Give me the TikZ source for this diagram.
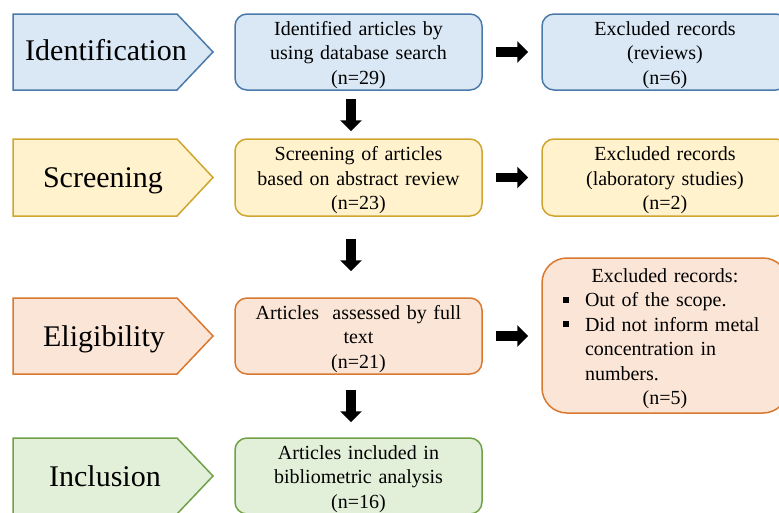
\documentclass[tikz,border=0pt]{standalone}
\usepackage{fontspec}
\setmainfont{Liberation Serif}
\usetikzlibrary{arrows.meta}
\definecolor{bfill}{HTML}{DAE8F5}
\definecolor{bline}{HTML}{4A7AAB}
\definecolor{yfill}{HTML}{FFF2CC}
\definecolor{yline}{HTML}{CFA52F}
\definecolor{ofill}{HTML}{FBE5D6}
\definecolor{oline}{HTML}{D9782F}
\definecolor{gfill}{HTML}{E2F0D9}
\definecolor{gline}{HTML}{70A048}
\newcommand{\fls}{\rule{0pt}{20pt}}
\begin{document}
\begin{tikzpicture}[x=1pt,y=-1pt,
  stage/.style={line width=1.5pt},
  stagetext/.style={anchor=base, inner sep=0pt, font=\fontsize{30}{36}\selectfont},
  roundbox/.style={rectangle, rounded corners=12pt, line width=1.5pt, minimum height=76pt,
    inner sep=0pt, align=center, font=\fontsize{20}{24.5}\selectfont},
  barrow/.style={line width=9.5pt, -{Triangle[length=11pt,width=21pt]}},
]
\useasboundingbox (0,0) rectangle (779,512);
\clip (0,0) rectangle (779,512);

% stage pentagons
\draw[stage, draw=bline, fill=bfill] (13,14) -- (177,14) -- (213,52) -- (177,90) -- (13,90) -- cycle;
\draw[stage, draw=yline, fill=yfill] (13,139) -- (177,139) -- (213,177.5) -- (177,216) -- (13,216) -- cycle;
\draw[stage, draw=oline, fill=ofill] (13,298) -- (177,298) -- (213,336) -- (177,374) -- (13,374) -- cycle;
\draw[stage, draw=gline, fill=gfill] (13,438) -- (177,438) -- (213,476) -- (177,514) -- (13,514) -- cycle;

\node[stagetext] (s1) at (106,60) {Identification};
\node[stagetext] (s2) at (103,187) {Screening};
\node[stagetext] (s3) at (104,346) {Eligibility};
\node[stagetext] (s4) at (105,486) {Inclusion};

% middle boxes
\node[roundbox, draw=bline, fill=bfill, text width=247pt] (id2) at (358.5,52)
  {\fls Identified articles by\\using database search\\(n=29)};
\node[roundbox, draw=yline, fill=yfill, text width=247pt, minimum height=77pt] (sc2) at (358.5,177.5)
  {\fls Screening of articles\\based on abstract review\\(n=23)};
\node[roundbox, draw=oline, fill=ofill, text width=247pt] (el2) at (358.5,336)
  {\fls Articles\ \ assessed by full\\text\\(n=21)};
\node[roundbox, draw=gline, fill=gfill, text width=247pt] (in2) at (358.5,476)
  {\fls Articles included in\\bibliometric analysis\\(n=16)};

% right boxes
\node[roundbox, draw=bline, fill=bfill, text width=246pt] (ex1) at (665,52)
  {\fls Excluded records\\(reviews)\\(n=6)};
\node[roundbox, draw=yline, fill=yfill, text width=246pt, minimum height=77pt] (ex2) at (665,177.5)
  {\fls Excluded records\\(laboratory studies)\\(n=2)};
\node[roundbox, draw=oline, fill=ofill, text width=246pt, minimum height=155pt,
      rounded corners=25pt, align=left] (ex3) at (665,335.5)
  {\makebox[246pt]{\fls Excluded records:}\\
   \hspace*{21pt}\makebox[22pt][l]{\rule[4pt]{6pt}{6pt}}Out of the scope.\\
   \hspace*{21pt}\makebox[22pt][l]{\rule[4pt]{6pt}{6pt}}Did not inform metal\\
   \hspace*{43pt}concentration in\\
   \hspace*{43pt}numbers.\\
   \makebox[246pt]{(n=5)}};

% arrows
\draw[barrow] ([xshift=13pt]id2.east) -- ([xshift=-13pt]ex1.west);
\draw[barrow] ([xshift=13pt]sc2.east) -- ([xshift=-13pt]ex2.west);
\draw[barrow] ([xshift=13pt]el2.east) -- ([xshift=-13pt]ex3.west |- el2.east);
\draw[barrow] ([xshift=-7.5pt,yshift=-8pt]id2.south) -- ([xshift=-7.5pt,yshift=7pt]sc2.north);
\draw[barrow] ([xshift=-7.5pt,yshift=-22pt]sc2.south) -- ([xshift=-7.5pt,yshift=26pt]el2.north);
\draw[barrow] ([xshift=-7.5pt,yshift=-15pt]el2.south) -- ([xshift=-7.5pt,yshift=15pt]in2.north);
\end{tikzpicture}
\end{document}
